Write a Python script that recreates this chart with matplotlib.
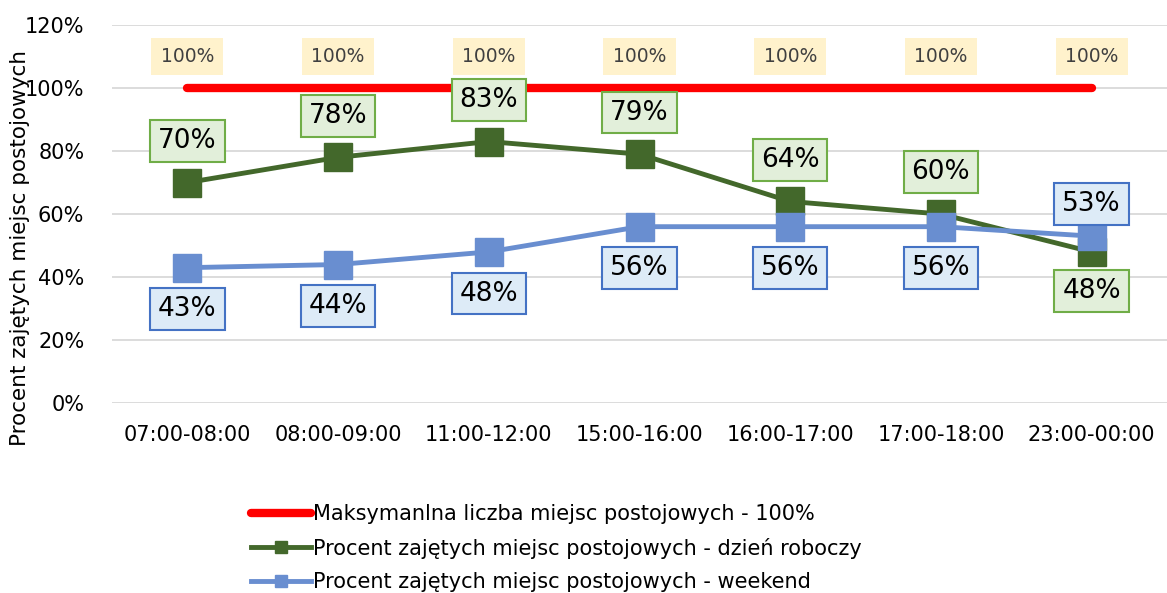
import matplotlib
matplotlib.use('Agg')
import matplotlib.pyplot as plt
from matplotlib.ticker import FuncFormatter

# Data
hours = ['07:00-08:00', '08:00-09:00', '11:00-12:00', '15:00-16:00',
         '16:00-17:00', '17:00-18:00', '23:00-00:00']
max_places = [100, 100, 100, 100, 100, 100, 100]
workday = [70, 78, 83, 79, 64, 60, 48]
weekend = [43, 44, 48, 56, 56, 56, 53]

red = '#FF0000'
green = '#43682B'
blue = '#698ED0'

plt.rcParams['font.family'] = ['DejaVu Sans']

fig = plt.figure(figsize=(11.67, 5.93), dpi=100)
ax = fig.add_axes([0.096, 0.32, 0.904, 0.638])

x = list(range(len(hours)))
ax.plot(x, max_places, color=red, lw=6, solid_capstyle='round',
        label='Maksymanlna liczba miejsc postojowych - 100%', zorder=3)
ax.plot(x, workday, color=green, lw=3.5, marker='s', markersize=20,
        label='Procent zajętych miejsc postojowych - dzień roboczy', zorder=4)
ax.plot(x, weekend, color=blue, lw=3.5, marker='s', markersize=20,
        label='Procent zajętych miejsc postojowych - weekend', zorder=5)

# Data labels
for i, v in enumerate(max_places):
    ax.annotate(f'{v}%', (i, 110), ha='center', va='center', fontsize=13.5,
                color='#404040',
                bbox=dict(boxstyle='square,pad=0.5', fc='#FFF2CC', ec='none'))

for i, v in enumerate(workday):
    dy = -28 if i == len(workday) - 1 else 30
    ax.annotate(f'{v}%', (i, v), xytext=(0, dy), textcoords='offset points',
                ha='center', va='center', fontsize=19, zorder=6,
                bbox=dict(boxstyle='square,pad=0.3', fc='#E2EFDA', ec='#70AD47', lw=1.5))

for i, v in enumerate(weekend):
    dy = 23 if i == len(weekend) - 1 else -30
    ax.annotate(f'{v}%', (i, v), xytext=(0, dy), textcoords='offset points',
                ha='center', va='center', fontsize=19, zorder=6,
                bbox=dict(boxstyle='square,pad=0.3', fc='#DDEBF7', ec='#4472C4', lw=1.5))

ax.set_xlim(-0.5, len(hours) - 0.5)
ax.set_ylim(0, 120)
ax.set_yticks(range(0, 121, 20))
ax.yaxis.set_major_formatter(FuncFormatter(lambda v, p: f'{v:.0f}%'))
ax.set_xticks(x)
ax.set_xticklabels(hours)
ax.tick_params(length=0, labelsize=15, pad=16)
ax.tick_params(axis='y', pad=20)
ax.grid(axis='y', color='#D9D9D9', lw=1.3)
ax.set_axisbelow(True)
for s in ax.spines.values():
    s.set_visible(False)
ax.set_ylabel('Procent zajętych miejsc postojowych', fontsize=15.5)
ax.yaxis.set_label_coords(-0.078, 0.41)

ax.legend(loc='upper left', bbox_to_anchor=(0.199, 0.182), bbox_transform=fig.transFigure,
          frameon=False, fontsize=15, handlelength=2.9, handletextpad=0.1,
          labelspacing=0.66, markerscale=0.45)

fig.savefig('out.png', dpi=100)
